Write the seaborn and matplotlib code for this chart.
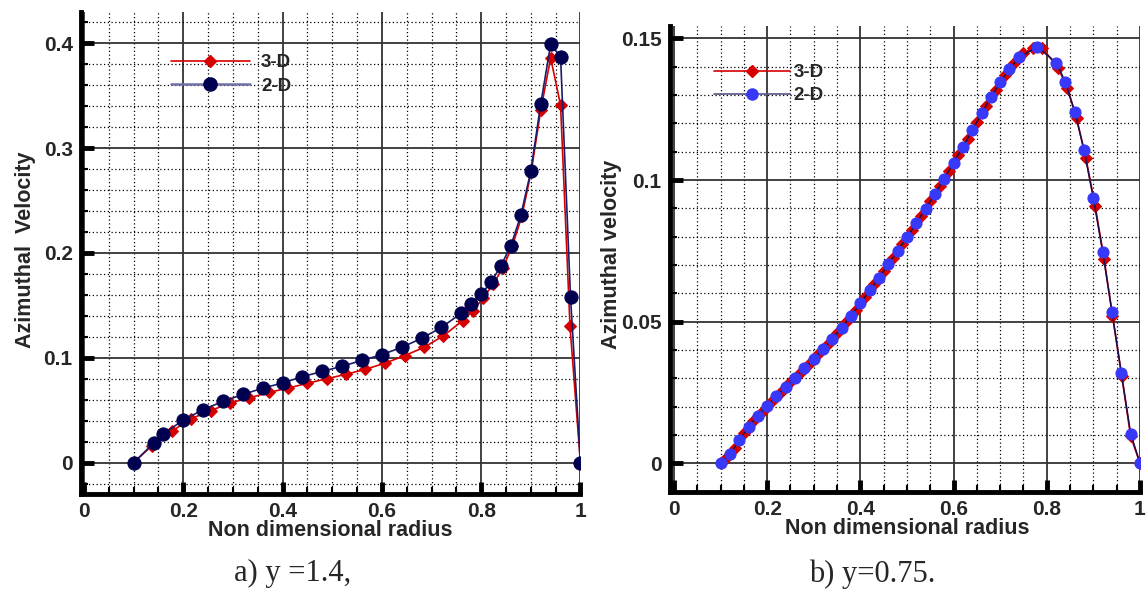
import numpy as np
import pandas as pd
import matplotlib
matplotlib.use("Agg")
import matplotlib.pyplot as plt
import seaborn as sns
from matplotlib.lines import Line2D
from matplotlib.ticker import MultipleLocator

# ---- data, panel a) y = 1.4
r3d_a = [0.1, 0.137, 0.177, 0.216, 0.255, 0.294, 0.333, 0.372, 0.411, 0.45,
         0.489, 0.528, 0.567, 0.607, 0.646, 0.685, 0.724, 0.763, 0.783, 0.804,
         0.824, 0.844, 0.863, 0.882, 0.901, 0.92, 0.94, 0.96, 0.979, 1.0]
v3d_a = [0.0, 0.0163, 0.030, 0.042, 0.0495, 0.057, 0.0617, 0.067, 0.071, 0.0757,
         0.080, 0.0843, 0.089, 0.095, 0.102, 0.110, 0.121, 0.1355, 0.1447, 0.157,
         0.170, 0.186, 0.207, 0.235, 0.278, 0.336, 0.386, 0.341, 0.130, 0.0]
r2d_a = [0.1, 0.14, 0.16, 0.2, 0.24, 0.28, 0.32, 0.36, 0.4, 0.44,
         0.48, 0.52, 0.56, 0.6, 0.64, 0.68, 0.72, 0.76, 0.78, 0.8,
         0.82, 0.84, 0.86, 0.88, 0.9, 0.92, 0.94, 0.96, 0.98, 1.0]
v2d_a = [0.0, 0.0185, 0.0275, 0.0406, 0.0505, 0.0585, 0.065, 0.071, 0.076, 0.082,
         0.087, 0.092, 0.0975, 0.103, 0.110, 0.1185, 0.129, 0.1425, 0.151, 0.161,
         0.172, 0.188, 0.207, 0.236, 0.278, 0.342, 0.399, 0.387, 0.158, 0.0]

# ---- data, panel b) y = 0.75
r3d_b = [0.1, 0.11, 0.13, 0.15, 0.17, 0.19, 0.21, 0.23, 0.25, 0.27, 0.29,
         0.31, 0.33, 0.35, 0.37, 0.39, 0.41, 0.43, 0.45, 0.47, 0.49,
         0.51, 0.53, 0.55, 0.57, 0.59, 0.61, 0.63, 0.65, 0.67, 0.69,
         0.71, 0.73, 0.75, 0.77, 0.79, 0.825, 0.844, 0.864, 0.884, 0.904,
         0.923, 0.941, 0.961, 0.98, 1.0]
v3d_b = [0.0, 0.0015, 0.0055, 0.0105, 0.0148, 0.0185, 0.022, 0.0253, 0.0286, 0.0318, 0.0351,
         0.0385, 0.0421, 0.0459, 0.050, 0.0542, 0.0587, 0.0632, 0.0678, 0.0726, 0.0774,
         0.0822, 0.0873, 0.0925, 0.0978, 0.1033, 0.1089, 0.1146, 0.1205, 0.1263, 0.1319,
         0.137, 0.1413, 0.1448, 0.1466, 0.1468, 0.1394, 0.1324, 0.1218, 0.1077, 0.0907,
         0.0722, 0.0521, 0.0307, 0.0095, 0.0]
r2d_b = [0.1, 0.12, 0.14, 0.16, 0.18, 0.2, 0.22, 0.24, 0.26, 0.28, 0.3,
         0.32, 0.34, 0.36, 0.38, 0.4, 0.42, 0.44, 0.46, 0.48, 0.5,
         0.52, 0.54, 0.56, 0.58, 0.6, 0.62, 0.64, 0.66, 0.68, 0.7,
         0.72, 0.74, 0.78, 0.82, 0.84, 0.86, 0.88, 0.9, 0.92, 0.94,
         0.96, 0.98, 1.0]
v2d_b = [0.0, 0.0031, 0.008, 0.0129, 0.0166, 0.0203, 0.0237, 0.027, 0.0302, 0.0335, 0.0368,
         0.0403, 0.044, 0.0479, 0.0521, 0.0564, 0.061, 0.0655, 0.0702, 0.075, 0.0798,
         0.0847, 0.0899, 0.0951, 0.1005, 0.1061, 0.1117, 0.1176, 0.1235, 0.1292, 0.1346,
         0.1392, 0.1433, 0.147, 0.1415, 0.1346, 0.1242, 0.1106, 0.0935, 0.0746, 0.0534,
         0.0318, 0.0104, 0.0]

xticks = [0, 0.2, 0.4, 0.6, 0.8, 1.0]
xticklabels = ["0", "0.2", "0.4", "0.6", "0.8", "1"]
yticks_a = [0, 0.1, 0.2, 0.3, 0.4]
yticklabels_a = ["0", "0.1", "0.2", "0.3", "0.4"]
yticks_b = [0, 0.05, 0.1, 0.15]
yticklabels_b = ["0", "0.05", "0.1", "0.15"]

sns.set_style("white")
plt.rcParams["font.family"] = ["Liberation Sans", "DejaVu Sans"]

fig = plt.figure(figsize=(11.48, 5.91), dpi=100)
ax1 = fig.add_axes([0.0706, 0.164, 0.435, 0.816])
ax2 = fig.add_axes([0.5836, 0.1675, 0.4094, 0.7885])

RED = "#d60000"
TICKFONT = {"fontsize": 15, "fontweight": "bold"}


def style_axis(ax, yticks, ylabels, yminor):
    ax.tick_params(which="major", direction="in", length=9, width=3.5, color="black",
                   pad=6, bottom=True, left=True)
    ax.tick_params(which="minor", direction="in", length=5, width=1.5, color="black",
                   bottom=True, left=True)
    ax.set_xticks(xticks, labels=xticklabels, **TICKFONT)
    ax.set_yticks(yticks, labels=ylabels, **TICKFONT)
    ax.xaxis.set_minor_locator(MultipleLocator(0.05))
    ax.yaxis.set_minor_locator(MultipleLocator(yminor))
    ax.grid(which="major", color="#333333", linestyle="-", linewidth=1.3, zorder=0)
    ax.grid(which="minor", color="black", linestyle=(0, (1, 2)), linewidth=0.9, zorder=0)
    ax.set_axisbelow(True)
    for s in ["top", "right"]:
        ax.spines[s].set_visible(False)
    for s in ["left", "bottom"]:
        ax.spines[s].set_linewidth(3.5)
        ax.spines[s].set_color("black")


# ---- panel a
df3a = pd.DataFrame({"r": r3d_a, "v": v3d_a})
df2a = pd.DataFrame({"r": r2d_a, "v": v2d_a})
sns.lineplot(data=df3a, x="r", y="v", ax=ax1, sort=False, estimator=None,
             color=RED, linewidth=1.2, marker="D", markersize=6,
             markeredgecolor=RED, markerfacecolor=RED, zorder=3)
sns.lineplot(data=df2a, x="r", y="v", ax=ax1, sort=False, estimator=None,
             color="#1c1c6a", linewidth=1.2, marker="o", markersize=9.5,
             markeredgecolor="#000050", markerfacecolor="#000050", zorder=4)
ax1.set_xlim(-0.006, 1.0)
ax1.set_ylim(-0.03, 0.43)
style_axis(ax1, yticks_a, yticklabels_a, 0.02)
ax1.set_xlabel("Non dimensional radius", fontsize=15.5, fontweight="bold")
ax1.set_ylabel("Azimuthal  Velocity", fontsize=15.5, fontweight="bold")
ax1.xaxis.set_label_coords(0.5, -0.053)
ax1.yaxis.set_label_coords(-0.09, 0.506)

h1 = [Line2D([], [], color=RED, lw=1.2, marker="D", ms=6, mfc=RED, mec=RED),
      Line2D([], [], color="#7070a8", lw=1.8, marker="o", ms=9.5, mfc="#000050", mec="#000050")]
ax1.legend(h1, ["3-D", "2-D"], loc="upper left", bbox_to_anchor=(0.18, 0.912),
           frameon=False, handlelength=4.2, handletextpad=0.6, labelspacing=0.32,
           borderpad=0, borderaxespad=0, prop={"weight": "bold", "size": 13.5})

# ---- panel b
df3b = pd.DataFrame({"r": r3d_b, "v": v3d_b})
df2b = pd.DataFrame({"r": r2d_b, "v": v2d_b})
sns.lineplot(data=df3b, x="r", y="v", ax=ax2, sort=False, estimator=None,
             color=RED, linewidth=1.2, marker="D", markersize=6,
             markeredgecolor=RED, markerfacecolor=RED, zorder=3)
sns.lineplot(data=df2b, x="r", y="v", ax=ax2, sort=False, estimator=None,
             color="#1a0a50", linewidth=1.1, marker="o", markersize=8,
             markeredgecolor="#3838f8", markerfacecolor="#3838f8", zorder=4)
ax2.set_xlim(-0.0086, 1.0)
ax2.set_ylim(-0.0102, 0.1544)
style_axis(ax2, yticks_b, yticklabels_b, 0.01)
ax2.set_xlabel("Non dimensional radius", fontsize=15.5, fontweight="bold")
ax2.set_ylabel("Azimuthal velocity", fontsize=15.5, fontweight="bold")
ax2.xaxis.set_label_coords(0.504, -0.056)
ax2.yaxis.set_label_coords(-0.103, 0.51)

h2 = [Line2D([], [], color=RED, lw=1.2, marker="D", ms=6, mfc=RED, mec=RED),
      Line2D([], [], color="#555588", lw=1.2, marker="o", ms=8, mfc="#3838f8", mec="#3838f8")]
ax2.legend(h2, ["3-D", "2-D"], loc="upper left", bbox_to_anchor=(0.094, 0.918),
           frameon=False, handlelength=4.05, handletextpad=0.18, labelspacing=0.3,
           borderpad=0, borderaxespad=0, prop={"weight": "bold", "size": 13.5})

# ---- captions
fig.text(0.255, 0.029, "a) y =1.4,", ha="center", va="center", fontsize=22,
         family=["Liberation Serif", "DejaVu Serif"])
fig.text(0.760, 0.029, "b) y=0.75.", ha="center", va="center", fontsize=22,
         family=["Liberation Serif", "DejaVu Serif"])

fig.savefig("out.png", dpi=100)
